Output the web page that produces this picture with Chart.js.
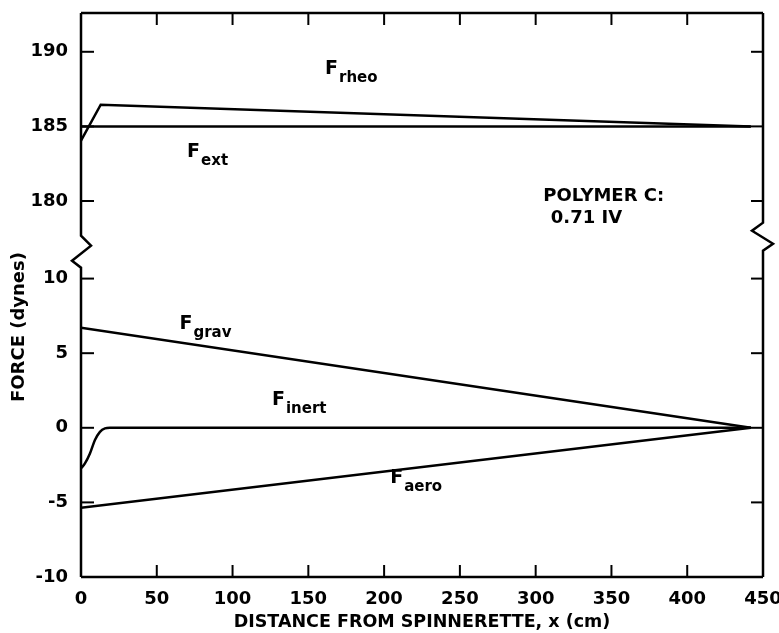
<!DOCTYPE html>
<html>
<head>
<meta charset="utf-8">
<script src="https://cdn.jsdelivr.net/npm/chart.js@4.4.1/dist/chart.umd.min.js"></script>
<style>
  html, body { margin: 0; padding: 0; background: #fff; }
</style>
</head>
<body>
<canvas id="forceChart" width="779" height="633"></canvas>
<script>
// tick values
const xTickValues = [0, 50, 100, 150, 200, 250, 300, 350, 400, 450];
const yUpperTicks = [180, 185, 190];
const yLowerTicks = [-10, -5, 0, 5, 10];

// curves (x in cm, force in dynes)
const rheoX = [0, 13, 442];
const rheoY = [184.05, 186.45, 185.0];
const extX = [0, 442];
const extY = [185, 185];
const gravX = [0, 442];
const gravY = [6.7, 0];
const inertX = [0, 2.6, 5.9, 9.2, 12.5, 15.8, 19.1, 442];
const inertY = [-2.72, -2.39, -1.72, -0.82, -0.27, -0.04, 0, 0];
const aeroX = [0, 442];
const aeroY = [-5.36, 0];

// curve labels, anchored in data units
const labelSubs = ["rheo", "ext", "grav", "inert", "aero"];
const labelX = [161, 70, 65, 126, 204];
const labelY = [188.5, 182.96, 6.6, 1.52, -3.7];
const labelAxis = ["yUpper", "yUpper", "yLower", "yLower", "yLower"];

const noteLines = ["POLYMER C:", "0.71 IV"];
const noteX = [305, 310];
const noteY = [180.0, 178.5];

const FONT = "'DejaVu Sans', sans-serif";

function toPoints(xs, ys) {
  return xs.map((x, i) => ({ x: x, y: ys[i] }));
}

function curve(label, xs, ys, axis, smooth) {
  return {
    label: label,
    data: toPoints(xs, ys),
    yAxisID: axis,
    borderColor: "#000",
    borderWidth: 2.5,
    pointRadius: 0,
    tension: smooth ? 0.4 : 0,
    cubicInterpolationMode: smooth ? "monotone" : "default",
    fill: false,
  };
}

function line(ctx, pts) {
  ctx.beginPath();
  ctx.moveTo(pts[0][0], pts[0][1]);
  for (let i = 1; i < pts.length; i++) ctx.lineTo(pts[i][0], pts[i][1]);
  ctx.stroke();
}

// frame with broken-axis zigzags and inward ticks
const framePlugin = {
  id: "frame",
  afterDatasetsDraw(chart) {
    const ctx = chart.ctx;
    const { left: L, right: R, top: T, bottom: B } = chart.chartArea;
    const xs = chart.scales.x;
    const brk = chart.scales.yLower.top;

    ctx.save();
    ctx.strokeStyle = "#000";
    ctx.lineWidth = 2.5;
    ctx.lineJoin = "miter";

    line(ctx, [[L, T], [R, T]]);
    line(ctx, [[L, B], [R, B]]);
    line(ctx, [[L, T], [L, brk - 16], [L + 10, brk - 6], [L - 9, brk + 9], [L, brk + 16], [L, B]]);
    line(ctx, [[R, T], [R, brk - 29], [R - 11, brk - 21], [R + 10, brk - 8], [R, brk - 1], [R, B]]);

    ctx.lineWidth = 2;
    xs.ticks.forEach((t) => {
      if (t.value <= 0 || t.value >= 450) return;
      const px = xs.getPixelForValue(t.value);
      line(ctx, [[px, B], [px, B - 12]]);
      line(ctx, [[px, T], [px, T + 12]]);
    });
    ["yUpper", "yLower"].forEach((id) => {
      const s = chart.scales[id];
      s.ticks.forEach((t) => {
        if (t.value === -10) return;
        const py = s.getPixelForValue(t.value);
        line(ctx, [[L, py], [L + 13, py]]);
        line(ctx, [[R, py], [R - 12, py]]);
      });
    });

    // curve labels: F with subscript
    ctx.fillStyle = "#000";
    ctx.textAlign = "left";
    ctx.textBaseline = "alphabetic";
    labelSubs.forEach((sub, i) => {
      const px = xs.getPixelForValue(labelX[i]);
      const py = chart.scales[labelAxis[i]].getPixelForValue(labelY[i]);
      ctx.font = "bold 19px " + FONT;
      ctx.fillText("F", px, py);
      const w = ctx.measureText("F").width;
      ctx.font = "bold 15px " + FONT;
      ctx.fillText(sub, px + w + 1, py + 8);
    });

    ctx.font = "bold 18px " + FONT;
    noteLines.forEach((txt, i) => {
      ctx.fillText(txt, xs.getPixelForValue(noteX[i]), chart.scales.yUpper.getPixelForValue(noteY[i]));
    });

    // y axis title
    ctx.save();
    ctx.translate(19, 327);
    ctx.rotate(-Math.PI / 2);
    ctx.textAlign = "center";
    ctx.textBaseline = "middle";
    ctx.font = "bold 18px " + FONT;
    ctx.fillText("FORCE (dynes)", 0, 0);
    ctx.restore();

    ctx.restore();
  },
};

function yAxis(min, max, ticks, weight) {
  return {
    type: "linear",
    position: "left",
    stack: "force",
    stackWeight: weight,
    min: min,
    max: max,
    grid: { display: false, drawTicks: false },
    border: { display: false },
    afterBuildTicks: (scale) => {
      scale.ticks = ticks.map((v) => ({ value: v }));
    },
    afterFit: (scale) => {
      scale.width = 81;
      scale.paddingTop = 0;
      scale.paddingBottom = 0;
    },
    ticks: {
      color: "#000",
      padding: 13,
      font: { family: FONT, size: 18, weight: "bold" },
    },
  };
}

function main() {
  const ctx = document.getElementById("forceChart").getContext("2d");
  new Chart(ctx, {
    type: "line",
    data: {
      datasets: [
        curve("F rheo", rheoX, rheoY, "yUpper", false),
        curve("F ext", extX, extY, "yUpper", false),
        curve("F grav", gravX, gravY, "yLower", false),
        curve("F inert", inertX, inertY, "yLower", true),
        curve("F aero", aeroX, aeroY, "yLower", false),
      ],
    },
    options: {
      responsive: false,
      animation: false,
      layout: { padding: { top: 13, right: 16, left: 0, bottom: 0 } },
      plugins: { legend: { display: false }, tooltip: { enabled: false } },
      scales: {
        x: {
          type: "linear",
          min: 0,
          max: 450,
          grid: { display: false, drawTicks: false },
          border: { display: false },
          afterBuildTicks: (scale) => {
            scale.ticks = xTickValues.map((v) => ({ value: v }));
          },
          afterFit: (scale) => {
            scale.height = 56;
            scale.paddingLeft = 0;
            scale.paddingRight = 0;
          },
          ticks: {
            color: "#000",
            padding: 12,
            maxRotation: 0,
            font: { family: FONT, size: 18, weight: "bold" },
          },
          title: {
            display: true,
            text: "DISTANCE FROM SPINNERETTE, x (cm)",
            color: "#000",
            padding: { top: 1, bottom: 0 },
            font: { family: FONT, size: 17.5, weight: "bold" },
          },
        },
        yLower: yAxis(-10, 11.8, yLowerTicks, 21.8),
        yUpper: yAxis(176.6, 192.6, yUpperTicks, 16),
      },
    },
    plugins: [framePlugin],
  });
}

document.addEventListener("DOMContentLoaded", main);
</script>
</body>
</html>
